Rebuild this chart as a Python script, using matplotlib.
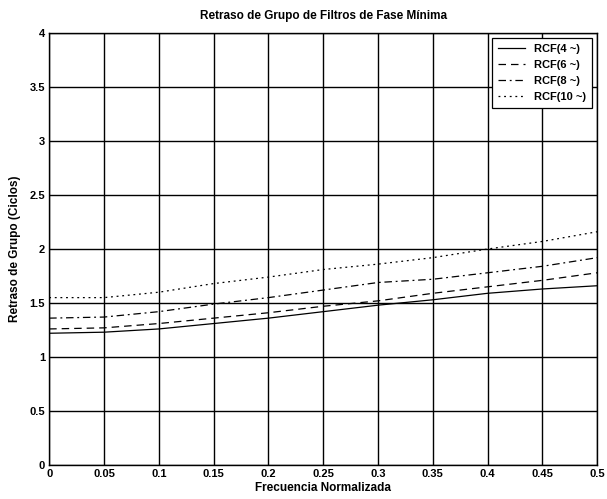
import matplotlib
matplotlib.use("Agg")
import matplotlib.pyplot as plt

plt.rcParams["font.family"] = ["Liberation Sans", "DejaVu Sans"]
plt.rcParams["font.weight"] = "bold"

# frecuencia normalizada
freq = [0, 0.05, 0.1, 0.15, 0.2, 0.25, 0.3, 0.35, 0.4, 0.45, 0.5]

# retraso de grupo (ciclos) por filtro
rcf4 = [1.22, 1.23, 1.26, 1.31, 1.36, 1.42, 1.48, 1.53, 1.59, 1.63, 1.66]
rcf6 = [1.26, 1.27, 1.31, 1.36, 1.41, 1.47, 1.52, 1.59, 1.65, 1.71, 1.78]
rcf8 = [1.36, 1.37, 1.42, 1.49, 1.55, 1.62, 1.69, 1.72, 1.78, 1.84, 1.92]
rcf10 = [1.55, 1.55, 1.60, 1.68, 1.74, 1.81, 1.86, 1.92, 2.00, 2.07, 2.16]

series = [("RCF(4 ~)", rcf4, "-"),
          ("RCF(6 ~)", rcf6, (0, (6, 4))),
          ("RCF(8 ~)", rcf8, (0, (6, 3, 1.5, 3))),
          ("RCF(10 ~)", rcf10, (0, (1.5, 3)))]

xticks = [0, 0.05, 0.1, 0.15, 0.2, 0.25, 0.3, 0.35, 0.4, 0.45, 0.5]
xlabels = ["0", "0.05", "0.1", "0.15", "0.2", "0.25", "0.3", "0.35", "0.4", "0.45", "0.5"]
yticks = [0, 0.5, 1, 1.5, 2, 2.5, 3, 3.5, 4]
ylabels = ["0", "0.5", "1", "1.5", "2", "2.5", "3", "3.5", "4"]

fig = plt.figure(figsize=(6.07, 4.99), dpi=100)
ax = fig.add_axes([0.081, 0.068, 0.903, 0.866])

for name, vals, ls in series:
    ax.plot(freq, vals, color="black", linestyle=ls, linewidth=0.9, label=name)

ax.set_xlim(0, 0.5)
ax.set_ylim(0, 4)
ax.set_xticks(xticks)
ax.set_xticklabels(xlabels, fontsize=8, fontweight="bold")
ax.set_yticks(yticks)
ax.set_yticklabels(ylabels, fontsize=8, fontweight="bold")
ax.tick_params(direction="in", length=0, pad=3)
ax.grid(True, color="black", linewidth=1.0, linestyle="-")
for s in ax.spines.values():
    s.set_linewidth(1.0)

ax.set_title("Retraso de Grupo de Filtros de Fase Mínima", fontsize=8.5, fontweight="bold", pad=10)
ax.set_xlabel("Frecuencia Normalizada", fontsize=8.5, fontweight="bold", labelpad=2)
ax.set_ylabel("Retraso de Grupo (Ciclos)", fontsize=8.5, fontweight="bold", labelpad=6)

leg = ax.legend(loc="upper right", fontsize=8, frameon=True, fancybox=False,
                edgecolor="black", framealpha=1, handlelength=2.5,
                borderaxespad=0.5, labelspacing=0.55, borderpad=0.5)
leg.get_frame().set_linewidth(0.9)

plt.savefig("out.png", dpi=100)
